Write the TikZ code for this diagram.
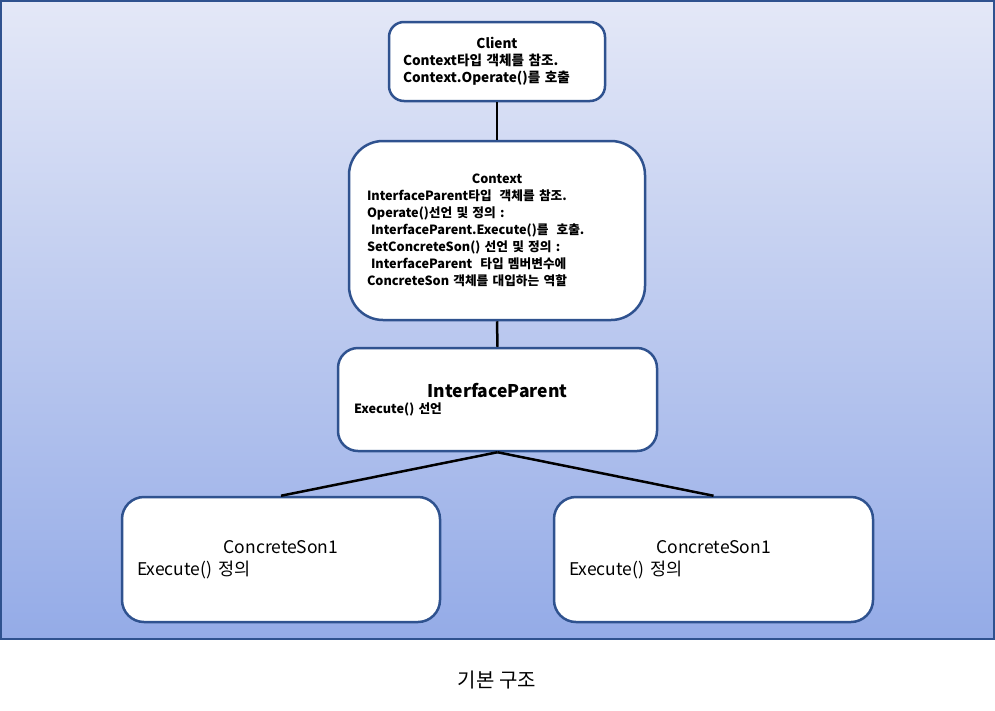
\documentclass[tikz,border=0pt]{standalone}
\usepackage{fontspec}
\setmainfont{Noto Sans CJK KR}
\definecolor{bgtop}{HTML}{E4E8F7}
\definecolor{bgbot}{HTML}{94ABE7}
\definecolor{edge}{HTML}{2F528F}
\newcommand{\ttl}[1]{\makebox[\hsize]{#1}}
\newcommand{\xsp}{\hspace{0.3em}}
\tikzset{
  box/.style={draw=edge, line width=2.5pt, fill=white, rectangle, align=left},
  conn/.style={draw=black, line width=2.5pt},
  small/.style={font=\bfseries\fontsize{12.7}{17}\selectfont},
}
\begin{document}
\begin{tikzpicture}[x=1pt,y=-1pt]
\useasboundingbox (0,0) rectangle (995,710);
\shade[top color=bgtop, bottom color=bgbot] (0,0) rectangle (994,639);
\draw[edge, line width=1.5pt] (0.75,0.75) rectangle (994,639);

\node[box, font=\bfseries\fontsize{13.6}{17}\selectfont, rounded corners=15pt, minimum width=216pt, minimum height=79pt,
      text width=188pt, inner xsep=14pt, inner ysep=0pt] (client) at (497,61.5)
  {\ttl{Client}\\ Context타입 객체를 참조.\\ Context.Operate()를 호출};

\node[box, small, rounded corners=34pt, minimum width=296pt, minimum height=179pt,
      text width=260pt, inner xsep=18pt, inner ysep=0pt] (context) at (497,230.5)
  {\ttl{Context}\\ InterfaceParent타입\xsp\ 객체를 참조.\\ Operate()선언 및 정의 :\\
   \hspace*{4pt}InterfaceParent.Execute()를\xsp\ 호출.\\ SetConcreteSon() 선언 및 정의 :\\
   \hspace*{4pt}InterfaceParent\xsp\ 타입 멤버변수에\\ ConcreteSon 객체를 대입하는 역할};

\node[box, small, rounded corners=20pt, minimum width=319pt, minimum height=103pt,
      text width=287pt, inner xsep=16pt, inner ysep=0pt] (ip) at (497.5,399.5)
  {\ttl{\fontsize{17.5}{19}\selectfont InterfaceParent}\\[-1pt] Execute() 선언};

\node[box, font=\fontsize{17.5}{22}\selectfont, rounded corners=22pt, minimum width=318pt, minimum height=125pt,
      text width=288pt, inner xsep=15pt, inner ysep=0pt] (son1) at (281,559.5)
  {\ttl{ConcreteSon1}\\ Execute() 정의};

\node[box, font=\fontsize{17.5}{22}\selectfont, rounded corners=22pt, minimum width=319pt, minimum height=125pt,
      text width=289pt, inner xsep=15pt, inner ysep=0pt] (son2) at (713.5,559.5)
  {\ttl{ConcreteSon1}\\ Execute() 정의};

\draw[conn] (client.south) -- (context.north);
\draw[conn] (context.south) -- (ip.north);
\draw[conn] (ip.south) -- (son1.north);
\draw[conn] (ip.south) -- (son2.north);

\node[font=\fontsize{20}{22}\selectfont] (caption) at (497,680) {기본 구조};
\end{tikzpicture}
\end{document}
